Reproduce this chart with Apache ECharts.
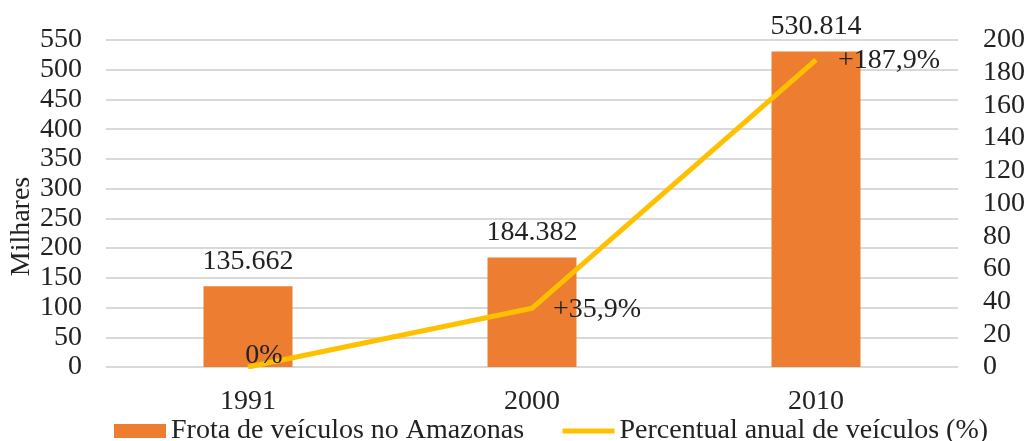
<!DOCTYPE html>
<html>
<head>
<meta charset="utf-8">
<script src="https://cdn.jsdelivr.net/npm/echarts@6/dist/echarts.min.js"></script>
<style>
  html, body { margin: 0; padding: 0; background: #fff; }
  #chart { width: 1027px; height: 441px; }
</style>
</head>
<body>
<div id="chart"></div>
<script>
// Vehicle fleet in Amazonas (thousands) and growth relative to 1991 (%)
const years = ['1991', '2000', '2010'];
const fleet = [135.662, 184.382, 530.814];
const growth = [0, 35.9, 187.9];
const growthLabels = ['0%', '+35,9%', '+187,9%'];

const FONT = "'Liberation Serif', 'Times New Roman', serif";
const FS = 28;
const TXT = '#222';
const chart = echarts.init(document.getElementById('chart'));

const fmtThousands = v => v.toFixed(3);

chart.setOption({
  animation: false,
  textStyle: { fontFamily: FONT, color: TXT },
  grid: { left: 106, right: 69, top: 40, bottom: 74, containLabel: false, outerBoundsMode: 'none' },
  legend: {
    bottom: -9,
    left: 109,
    itemWidth: 52,
    itemHeight: 14,
    itemGap: 36,
    textStyle: { fontFamily: FONT, fontSize: FS, color: TXT },
    data: [
      { name: 'Frota de veículos no Amazonas', icon: 'rect' },
      {
        name: 'Percentual anual de veículos (%)',
        itemStyle: { opacity: 0 },
        lineStyle: { width: 5, color: '#FFC000', opacity: 1 }
      }
    ]
  },
  xAxis: {
    type: 'category',
    data: years,
    axisLine: { show: false },
    axisTick: { show: false },
    axisLabel: { fontFamily: FONT, fontSize: FS, color: TXT, margin: 21 }
  },
  yAxis: [
    {
      type: 'value',
      min: 0, max: 550, interval: 50,
      name: 'Milhares',
      nameLocation: 'middle',
      nameRotate: 90,
      nameGap: 70,
      nameMoveOverlap: false,
      nameTextStyle: { fontFamily: FONT, fontSize: FS, color: TXT, padding: [0, 46, 0, 0] },
      axisLine: { show: false },
      axisTick: { show: false },
      axisLabel: { fontFamily: FONT, fontSize: FS, color: TXT, margin: 24 },
      splitLine: { lineStyle: { color: '#D9D9D9', width: 2 } }
    },
    {
      type: 'value',
      min: 0, max: 200, interval: 20,
      position: 'right',
      axisLine: { show: false },
      axisTick: { show: false },
      axisLabel: { fontFamily: FONT, fontSize: FS, color: TXT, margin: 25 },
      splitLine: { show: false }
    }
  ],
  series: [
    {
      name: 'Frota de veículos no Amazonas',
      type: 'bar',
      data: fleet,
      barWidth: 89,
      itemStyle: { color: '#ED7D31' },
      label: {
        show: true,
        position: 'top',
        distance: 11,
        fontFamily: FONT, fontSize: FS, color: TXT,
        formatter: p => fmtThousands(p.value)
      }
    },
    {
      name: 'Percentual anual de veículos (%)',
      type: 'line',
      yAxisIndex: 1,
      data: growth.map((v, i) => {
        const item = { value: v };
        if (i === 0) {
          item.label = { position: 'top', offset: [16, 8] };
        } else {
          item.label = { position: 'right', offset: [i === 1 ? 16 : 17, 1] };
        }
        return item;
      }),
      symbol: 'circle',
      symbolSize: 0,
      showAllSymbol: true,
      lineStyle: { color: '#FFC000', width: 5 },
      itemStyle: { color: '#FFC000' },
      label: {
        show: true,
        fontFamily: FONT, fontSize: FS, color: TXT,
        formatter: p => growthLabels[p.dataIndex]
      },
      z: 3
    }
  ]
});
</script>
</body>
</html>
